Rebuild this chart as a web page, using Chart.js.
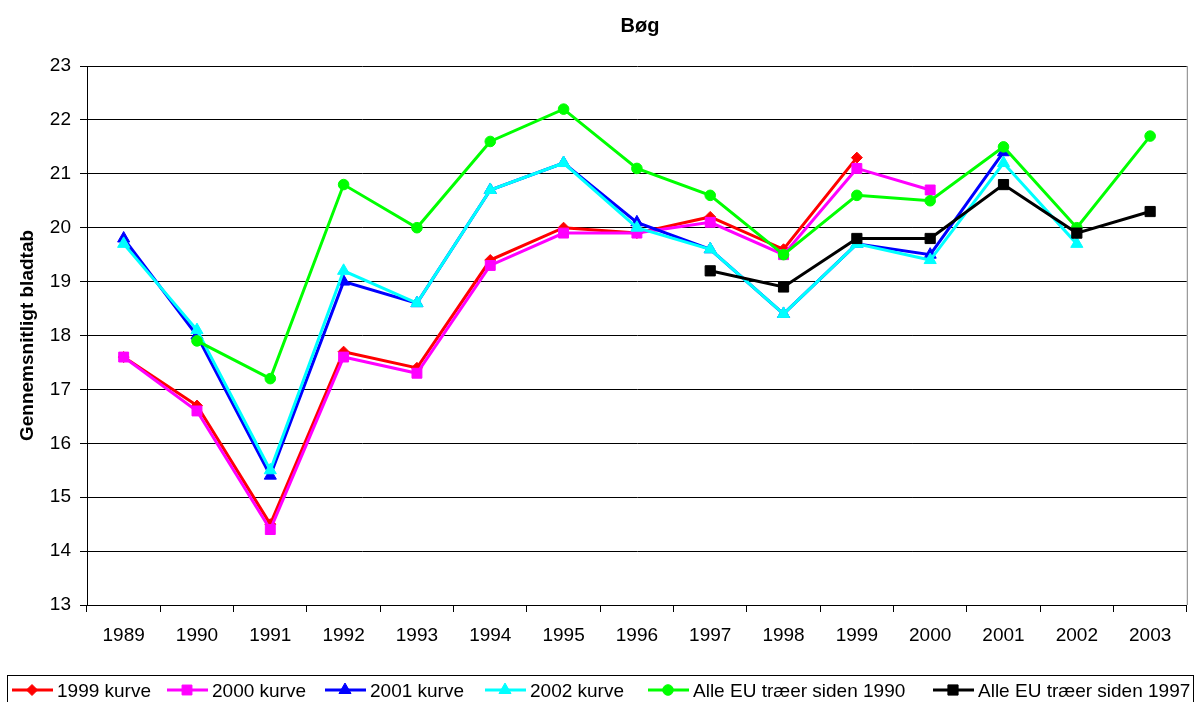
<!DOCTYPE html>
<html>
<head>
<meta charset="utf-8">
<script src="https://cdn.jsdelivr.net/npm/chart.js@4/dist/chart.umd.min.js"></script>
<style>
html,body{margin:0;padding:0;background:#fff;}
#wrap{width:1195px;height:702px;}
</style>
</head>
<body>
<div id="wrap"><canvas id="c" width="1195" height="702"></canvas></div>
<script>
const years = ["1989","1990","1991","1992","1993","1994","1995","1996","1997","1998","1999","2000","2001","2002","2003"];
const yTicks = [13,14,15,16,17,18,19,20,21,22,23];
const chartTitle = "Bøg";
const yTitle = "Gennemsnitligt bladtab";

const kurve1999 = [17.6,16.7,14.5,17.7,17.4,19.4,20.0,19.9,20.2,19.6,21.3,null,null,null,null];
const kurve2000 = [17.6,16.6,14.4,17.6,17.3,19.3,19.9,19.9,20.1,19.5,21.1,20.7,null,null,null];
const kurve2001 = [19.8,18.0,15.4,19.0,18.6,20.7,21.2,20.1,19.6,18.4,19.7,19.5,21.4,null,null];
const kurve2002 = [19.7,18.1,15.5,19.2,18.6,20.7,21.2,20.0,19.6,18.4,19.7,19.4,21.2,19.7,null];
const alleEU1990 = [null,17.9,17.2,20.8,20.0,21.6,22.2,21.1,20.6,19.5,20.6,20.5,21.5,20.0,21.7];
const alleEU1997 = [null,null,null,null,null,null,null,null,19.2,18.9,19.8,19.8,20.8,19.9,20.3];

const seriesNames = ["1999 kurve","2000 kurve","2001 kurve","2002 kurve","Alle EU træer siden 1990","Alle EU træer siden 1997"];
const seriesData = [kurve1999,kurve2000,kurve2001,kurve2002,alleEU1990,alleEU1997];
const seriesColors = ["#FF0000","#FF00FF","#0000FF","#00FFFF","#00FF00","#000000"];
const seriesMarkers = ["rectRot","rect","triangle","triangle","circle","rect"];
const markerRadius = [5.5,7,7,7,5.3,7.2];

const FONT = "'Liberation Sans', Arial, sans-serif";

const datasets = seriesNames.map((n,i)=>({
  label:n,
  data:seriesData[i],
  borderColor:seriesColors[i],
  backgroundColor:seriesColors[i],
  pointBackgroundColor:seriesColors[i],
  pointBorderColor:seriesColors[i],
  pointStyle:seriesMarkers[i],
  pointRadius:markerRadius[i],
  pointBorderWidth:1,
  borderWidth:3,
  tension:0,
  spanGaps:false,
  order:6-i
}));

const legendTextXs = [57,212,370,530,693,978];

const extras = {
  id:'extras',
  afterDraw(chart){
    const ctx = chart.ctx;
    const ca = chart.chartArea;
    ctx.save();
    // right border of plot area
    ctx.strokeStyle = '#808080';
    ctx.lineWidth = 1;
    ctx.beginPath();
    ctx.moveTo(ca.right+0.5, ca.top);
    ctx.lineTo(ca.right+0.5, ca.bottom);
    ctx.stroke();
    // title
    ctx.fillStyle = '#000';
    ctx.font = "bold 20px " + FONT;
    ctx.textAlign = 'center';
    ctx.textBaseline = 'alphabetic';
    ctx.fillText(chartTitle, 640, 32);
    // legend box
    ctx.strokeStyle = '#000';
    ctx.lineWidth = 1;
    ctx.strokeRect(7.5, 675.5, 1186, 30);
    ctx.font = "19px " + FONT;
    ctx.textAlign = 'left';
    const ly = 690;
    chart.data.datasets.forEach((ds,i)=>{
      const tx = legendTextXs[i];
      const x0 = tx - 45;
      ctx.strokeStyle = ds.borderColor;
      ctx.lineWidth = 3;
      ctx.beginPath();
      ctx.moveTo(x0, ly);
      ctx.lineTo(x0+41, ly);
      ctx.stroke();
      ctx.fillStyle = ds.pointBackgroundColor;
      ctx.strokeStyle = ds.pointBorderColor;
      ctx.lineWidth = 1;
      Chart.helpers.drawPoint(ctx, {pointStyle: ds.pointStyle, radius: ds.pointRadius, borderWidth:1, rotation:0}, x0+20, ly);
      ctx.fillStyle = '#000';
      ctx.fillText(ds.label, tx, 697);
    });
    ctx.restore();
  }
};

new Chart(document.getElementById('c'), {
  type:'line',
  data:{labels:years, datasets:datasets},
  options:{
    responsive:false,
    animation:false,
    devicePixelRatio:1,
    layout:{padding:{left:0, top:66, right:6, bottom:37}},
    plugins:{legend:{display:false}, tooltip:{enabled:false}, title:{display:false}},
    scales:{
      x:{
        type:'category',
        offset:true,
        grid:{offset:true, drawOnChartArea:false, drawTicks:true, tickLength:7, color:'#000', lineWidth:1},
        border:{display:true, color:'#000', width:1},
        ticks:{color:'#000', font:{family:FONT, size:19}, padding:12, maxRotation:0, autoSkip:false},
        afterFit(s){ s.height = 60; }
      },
      y:{
        min:13, max:23,
        afterBuildTicks(s){ s.ticks = yTicks.map(v=>({value:v})); },
        grid:{color:'#000', lineWidth:1, drawTicks:true, tickLength:7},
        border:{display:true, color:'#000', width:1},
        ticks:{color:'#000', font:{family:FONT, size:19}, padding:9},
        title:{display:true, text:yTitle, color:'#000', font:{family:FONT, size:19, weight:'bold'}, padding:{top:16,bottom:0}},
        afterFit(s){ s.width = 87; }
      }
    }
  },
  plugins:[extras]
});
</script>
</body>
</html>
